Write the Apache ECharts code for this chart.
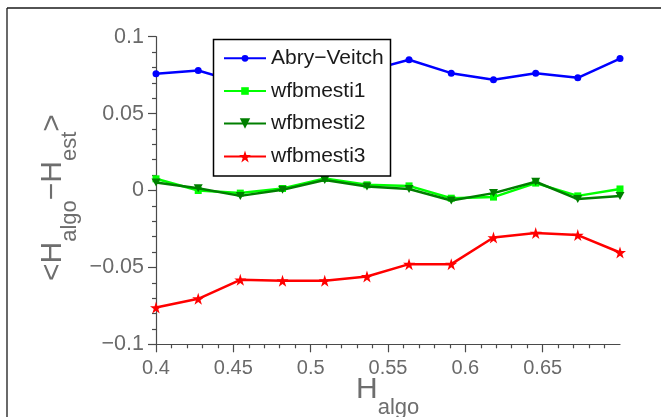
<!DOCTYPE html>
<html>
<head>
<meta charset="utf-8">
<script src="https://cdn.jsdelivr.net/npm/echarts@6/dist/echarts.min.js"></script>
<style>html,body{margin:0;padding:0;background:#fff;}#c{width:661px;height:417px;}</style>
</head>
<body>
<div id="c"></div>
<script>
// ---- data ----
const xValues = [0.4, 0.4273, 0.4545, 0.4818, 0.5091, 0.5364, 0.5636, 0.5909, 0.6182, 0.6455, 0.6727, 0.7];
const abryVeitch = [0.0759, 0.0780, 0.0700, 0.0740, 0.0790, 0.0776, 0.0850, 0.0763, 0.0720, 0.0763, 0.0733, 0.0858];
const wfbmesti1 = [0.0076, 0.0000, -0.0017, 0.0013, 0.0078, 0.0037, 0.0030, -0.0050, -0.0043, 0.0048, -0.0035, 0.0010];
const wfbmesti2 = [0.0052, 0.0015, -0.0035, 0.0005, 0.0068, 0.0026, 0.0010, -0.0065, -0.0017, 0.0057, -0.0056, -0.0035];
const wfbmesti3 = [-0.0761, -0.0704, -0.0581, -0.0587, -0.0587, -0.0559, -0.0479, -0.0479, -0.0306, -0.0277, -0.0290, -0.0403];
const seriesNames = ['Abry\u2212Veitch', 'wfbmesti1', 'wfbmesti2', 'wfbmesti3'];
const xTickLabels = [0.4, 0.45, 0.5, 0.55, 0.6, 0.65];
const yTicks = { min: -0.1, max: 0.1, step: 0.05 };
const xRange = { min: 0.4, max: 0.7 };

const FONT = '"Liberation Sans", Arial, Helvetica, sans-serif';
const STAR = 'path://M10,0 L12.245,6.91 L19.511,6.91 L13.633,11.18 L15.878,18.09 L10,13.82 L4.122,18.09 L6.367,11.18 L0.489,6.91 L7.755,6.91 Z';
const TRI_DOWN = 'path://M0,0 L10,0 L5,8.7 Z';

function pairs(ys) { return ys.map((y, i) => [xValues[i], y]); }

const styles = [
  { color: '#0000ff', symbol: 'circle', size: 7, legendH: 8.5 },
  { color: '#00ff00', symbol: 'rect', size: 7, legendH: 9.5 },
  { color: '#007f00', symbol: TRI_DOWN, size: [9, 8], legendH: 13 },
  { color: '#ff0000', symbol: STAR, size: 12, legendH: 15 }
];
const dataSets = [abryVeitch, wfbmesti1, wfbmesti2, wfbmesti3];

const series = dataSets.map((d, i) => ({
  name: seriesNames[i],
  type: 'line',
  data: pairs(d),
  symbol: styles[i].symbol,
  symbolSize: styles[i].size,
  showAllSymbol: true,
  animation: false,
  lineStyle: { color: styles[i].color, width: 2.5 },
  itemStyle: { color: styles[i].color },
  z: 2 + i * 0.01
}));

const rowCenters = [58.3, 91, 123.5, 156.5];
const legends = seriesNames.map((n, i) => ({
  data: [n],
  orient: 'vertical',
  left: 223,
  top: rowCenters[i] - 12,
  padding: 0,
  itemWidth: 42,
  itemHeight: styles[i].legendH,
  itemGap: 0,
  selectedMode: false,
  z: 10,
  textStyle: { fontFamily: FONT, fontSize: 21, color: '#1a1a1a', lineHeight: 24 }
}));

// measure text widths for axis titles
const cv = document.createElement('canvas').getContext('2d');
function tw(t, size) { cv.font = size + 'px ' + FONT; return cv.measureText(t).width; }

const MAIN = 30, SUB = 22, TITLE_COLOR = '#6e6e6e';
const graphics = [];
// x title
const xt = { x: 356, y: 390 };
graphics.push({
  type: 'text', x: xt.x, y: xt.y, z: 20,
  style: { text: 'H', font: MAIN + 'px ' + FONT, fill: TITLE_COLOR, verticalAlign: 'middle', align: 'left' }
});
graphics.push({
  type: 'text', x: xt.x + tw('H', MAIN), y: xt.y + 17.5, z: 20,
  style: { text: 'algo', font: SUB + 'px ' + FONT, fill: TITLE_COLOR, verticalAlign: 'middle', align: 'left' }
});
// y title (rotated group)
const yParts = [['<H', MAIN], ['algo', SUB], ['\u2212H', MAIN], ['est', SUB], ['>', MAIN]];
let lx = 0;
const yChildren = yParts.map(([t, s]) => {
  const el = {
    type: 'text', x: lx, y: s === SUB ? 17 : 0,
    style: { text: t, font: s + 'px ' + FONT, fill: TITLE_COLOR, verticalAlign: 'middle', align: 'left' }
  };
  lx += tw(t, s);
  return el;
});
graphics.push({ type: 'group', x: 53, y: 281, rotation: Math.PI / 2, z: 20, children: yChildren });

// legend box
graphics.push({
  type: 'rect', z: 3,
  shape: { x: 213.5, y: 39.5, width: 177, height: 136.5 },
  style: { fill: '#ffffff', stroke: '#000000', lineWidth: 1.5 }
});
// outer frame (left and top edges)
graphics.push({ type: 'line', z: 20, shape: { x1: 7, y1: 8, x2: 7, y2: 417 }, style: { stroke: '#1a1a1a', lineWidth: 1.3 } });
graphics.push({ type: 'line', z: 20, shape: { x1: 7, y1: 8, x2: 661, y2: 8 }, style: { stroke: '#1a1a1a', lineWidth: 1.3 } });

const AXIS_COLOR = '#4a4a4a', LABEL_COLOR = '#6a6a6a';
function fmt(v) {
  const r = Math.round(v * 1000) / 1000;
  if (r === 0) return '0';
  return (r < 0 ? '\u2212' : '') + String(Math.abs(r));
}

const chart = echarts.init(document.getElementById('c'), null, { renderer: 'canvas' });
chart.setOption({
  animation: false,
  backgroundColor: '#ffffff',
  grid: { left: 156, right: 41, top: 36.7, bottom: 72.7, containLabel: false },
  xAxis: {
    type: 'value', min: xRange.min, max: xRange.max, interval: 0.05,
    axisLine: { show: true, onZero: false, lineStyle: { color: AXIS_COLOR, width: 1.2 } },
    axisTick: { show: true, length: 8, customValues: xTickLabels, lineStyle: { color: AXIS_COLOR, width: 1.2 } },
    minorTick: { show: true, splitNumber: 5, length: 4, lineStyle: { color: AXIS_COLOR, width: 1.2 } },
    splitLine: { show: false },
    axisLabel: { customValues: xTickLabels, margin: 14, fontFamily: FONT, fontSize: 20, color: LABEL_COLOR, formatter: fmt }
  },
  yAxis: {
    type: 'value', min: yTicks.min, max: yTicks.max, interval: yTicks.step,
    axisLine: { show: true, onZero: false, lineStyle: { color: AXIS_COLOR, width: 1.2 } },
    axisTick: { show: true, length: 8, lineStyle: { color: AXIS_COLOR, width: 1.2 } },
    minorTick: { show: true, splitNumber: 5, length: 4, lineStyle: { color: AXIS_COLOR, width: 1.2 } },
    splitLine: { show: false },
    axisLabel: { margin: 12, fontFamily: FONT, fontSize: 21.5, color: LABEL_COLOR, formatter: fmt }
  },
  legend: legends,
  series: series,
  graphic: { elements: graphics }
});
</script>
</body>
</html>
